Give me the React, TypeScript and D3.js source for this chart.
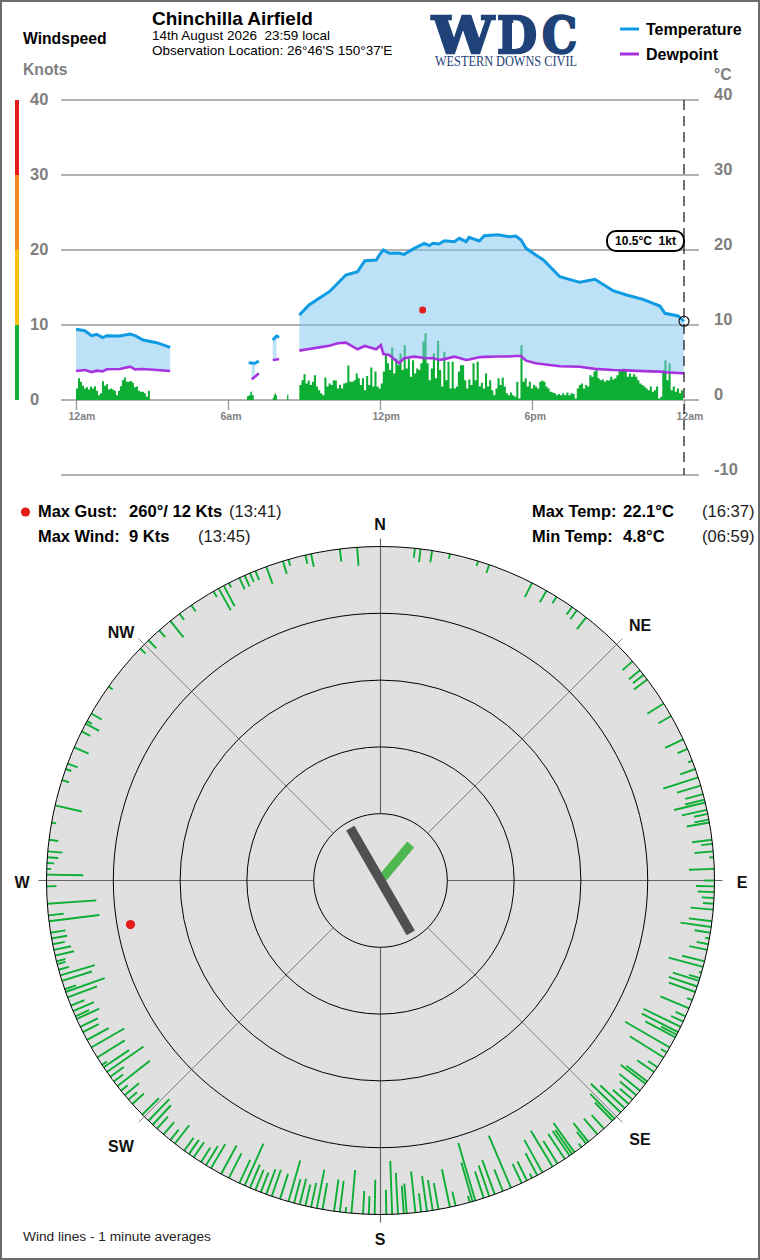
import * as d3 from "d3";
import { useEffect, useRef } from "react";

const hourTicks = [0, 360, 720, 1080, 1440];
const hourLabels = ["12am", "6am", "12pm", "6pm", "12am"];
const knotTicks = [40, 30, 20, 10, 0];
const tempTicks = [40, 30, 20, 10, 0, -10];
const speedBands = [
    { from: 30, to: 40, color: "#e31b1b" },
    { from: 20, to: 30, color: "#f58a1f" },
    { from: 10, to: 20, color: "#fbc010" },
    { from: 0, to: 10, color: "#10b03a" },
];

// temperature + dewpoint, minutes since midnight
const morningTimes = [0, 21, 37, 49, 63, 73, 104, 128, 140, 159, 191, 223];
const morningTemp = [9.42, 9.24, 8.58, 8.76, 8.31, 8.58, 8.53, 8.8, 8.58, 8, 7.64, 7.02];
const morningDew = [3.87, 4, 3.73, 3.91, 3.82, 4.09, 4.13, 4.44, 4.09, 4.13, 4, 3.87];

const blipOneTimes = [409, 416, 424, 433];
const blipOneTemp = [4.98, 4.93, 4.89, 5.2];
const blipOneDew = [NaN, 2.76, 3.1, 3.56];

const blipTwoTimes = [466, 475, 481];
const blipTwoTemp = [8, 8.53, 8.36];
const blipTwoDew = [5.33, 5.4, 5.47];

const dayTimes = [529, 552, 576, 600, 620, 639, 667, 684, 711, 722, 728, 742, 765, 777, 801, 825, 837, 845, 860, 872, 896, 908, 924, 931, 955, 967, 999, 1026, 1042, 1054, 1066, 1089, 1107, 1146, 1193, 1229, 1272, 1304, 1343, 1383, 1395, 1426, 1440];
const dayTemp = [11.33, 12.67, 13.56, 14.44, 15.56, 16.67, 17.11, 18.58, 18.67, 19.6, 20, 19.56, 19.6, 19.42, 20.22, 20.89, 20.58, 20.89, 20.8, 21.24, 21.1, 21.56, 21.11, 21.69, 21.2, 21.91, 22.04, 21.77, 21.87, 21.33, 20.22, 19.33, 18.67, 16.44, 15.69, 16.09, 14.58, 14, 13.42, 12.53, 11.56, 11.2, 10.5];
const dayDew = [6.58, 6.8, 7.02, 7.24, 7.56, 7.64, 6.76, 7.2, 6.76, 7.33, 6.13, 6, 4.9, 5.56, 5.78, 5.6, 5.56, 5.6, 5.33, 5.45, 5.78, 5.6, 5.33, 5.4, 5.69, 5.75, 5.8, 5.8, 5.87, 5.87, 5.24, 4.89, 4.76, 4.5, 4.44, 4.15, 4, 3.95, 3.85, 3.78, 3.7, 3.6, 3.55];

const fillRanges = [[0, 223], [416, 424], [466, 475], [529, 1440]];

// wind speed runs in knots, each with its first and last minute
const windMorning = [1.55, 2.9, 2.45, 1.9, 1.55, 1.7, 1.4, 1.8, 1.55, 1.85, 1.25, 0.65, 0.9, 2.5, 1.9, 2.1, 1.4, 1.55, 1.4, 1.25, 0.65, 1.25, 1.85, 2.65, 3, 2.45, 2.45, 2.55, 2.3, 1.7, 1.8, 1.25, 1.1, 1.1, 0.9, 0.45, 1.25, 0.2];
const windBlipOne = [0.5, 0.65, 1.1, 0.65, 0.45];
const windBlipTwo = [0.3, 0.7, 0.9, 0.6, 0.3];
const windBlipThree = [0, 0.7, 0];
const windDay = [
    2, 2.65, 3.45, 2.2, 2.6, 2, 2.45, 3.3, 1.8, 1.3, 0.9, 0.65, 3, 1.8, 2.2, 2, 2.65, 2.6, 1.55, 2, 1.55, 2.2, 2.3, 4.6, 2.45, 2.45, 2.65, 3.55, 2.9, 2, 2.9, 1.3, 3.2, 2, 4.35, 1.8, 3.8, 1.8, 1.55, 2.2, 3.8, 6, 4.9, 4, 7, 3.55, 5.55, 4.65, 6.2, 4, 7.3, 4.2, 5.55, 3.1, 5.3, 3.55, 4.2, 4, 4.9, 7.8, 8.9,
    4.9, 2.65, 4.2, 6.2, 2.9, 7.9, 4, 1.8, 6.45, 2.65, 5.1, 1.55, 5.1, 1.55, 1.8, 3.8, 4.65, 4.65, 2.65, 1.55, 2.75, 2, 4.9, 2.65, 5.1, 1.8, 2.3, 1.55, 3.55, 1.8, 2.65, 1.3, 0.65, 1.55, 2.9, 2, 3, 1.8, 0.9, 0.65, 1, 0.65, 0.45, 2.45, 0.2, 7.3, 2.45, 2.9, 1.8, 2.45, 1.55, 2, 1.8, 1.55, 2.45, 2.6, 2.45, 1.8, 1.55, 1.1, 1,
    0.9, 0.65, 0.8, 0.65, 0.9, 0.65, 1, 0.65, 0.9, 0.8, 0.2, 1.55, 2, 2.2, 1.55, 2, 1.8, 3.3, 3.1, 3.8, 4.2, 2.9, 2.65, 2.75, 2.45, 2.65, 2.6, 3.1, 2.75, 2.9, 3.3, 4, 4, 4.2, 4, 3.1, 3.55, 3.1, 3.45, 3.1, 2.65, 2.2, 2, 1.8, 1.55, 1.3, 1.8, 1.1, 1.3, 1.8, 0.2, 0.45, 4, 5.3, 2.65, 4.9, 1.3, 1.8, 1.1, 1.55, 0.9, 1.3, 1.55,
];

// compass lines: bearing in degrees, speed in knots
const lineBearings = [
    5.9, 6.9, 8.9, 12, 17, 19, 27, 29.8, 31.8, 35, 36, 38, 49, 51, 52, 53, 58, 60.5, 65, 66.8, 69, 70.5, 72, 73.5, 75, 76, 76.5, 77.8, 78.5, 79.5, 80, 83, 83.7, 85, 86, 88, 90,
    91, 92, 93, 94, 95, 97, 98, 99, 100, 101, 102, 104, 105, 106, 107, 107.5, 108.5, 109.5, 111, 112.5, 114, 115, 116, 117, 117.5, 118, 120, 121, 122, 124, 125, 127, 127.5, 129, 130, 131, 132, 133, 134, 135.5, 136, 138, 139.5, 141.5, 142, 143, 144.5, 145, 145.5, 146.5, 148, 149, 151, 152, 153, 154, 155, 157, 158.5, 160, 161, 162, 163.5, 164, 164.5, 167, 168, 170, 171, 172, 173, 174, 175.5, 176, 177, 178, 179,
    181, 182, 183, 185, 186, 187, 188, 190, 191, 192, 193, 194, 195, 196, 197.5, 199, 200, 201, 202, 203, 204, 205, 207, 208.5, 210.5, 211.5, 212.5, 214, 215, 216, 218, 219, 220.5, 222, 223, 224, 225.5, 228, 229, 230, 231, 232, 233, 234, 235, 236, 236.5, 238, 240, 241.5, 243, 244, 245.5, 246, 247, 248, 249.5, 250.5, 251, 252.5, 253.5, 254.5, 255.5, 256, 257, 258, 259, 260, 261, 263, 264, 266, 269,
    271, 272, 273, 274, 275, 277, 280, 283, 287.5, 289.5, 290.5, 293.5, 296.5, 298, 298.5, 300, 305.5, 314, 316, 318.5, 321, 323, 325.5, 330, 331, 332, 333, 335, 336, 337, 338, 340, 343, 344, 347, 348, 353, 356,
];
const lineSpeeds = [
    1.4, 2, 1.8, 0.75, 0.75, 1.3, 2.4, 2, 1.15, 1.4, 1.65, 2.25, 2, 2.15, 2.05, 2.5, 2.9, 2.2, 3, 1.6, 0.7, 2.4, 5.5, 3.7, 2.75, 3, 4.8, 3.85, 2.1, 2.2, 3.45, 3, 1.7, 2.8, 0.65, 3.8, 1.5,
    2.75, 2.5, 1.85, 1.6, 3.4, 3.5, 4.65, 2.4, 0.65, 1.8, 2.75, 3.45, 5.35, 0.4, 1.7, 4.1, 4.5, 4.2, 0.85, 4.65, 1.65, 2, 6.2, 6.1, 2.65, 5.1, 7.7, 1, 6, 1.7, 3.1, 3.9, 4.7, 4, 3.2, 2.5, 3.2, 5, 6.2, 5.2, 3.8, 2.75, 3.1, 3.6, 2.25, 0.7, 5.4, 4.4, 4.5, 4.5, 4, 6.3, 5.6, 3.75, 0.75, 3.2, 3.2, 8.5, 3.5, 5.5, 4.85, 4.2, 9, 6.1, 1, 2.2, 5.8, 4, 4.6, 5.3, 2.8, 6.2, 4.5, 4.2, 6.2, 8, 3.7,
    5.2, 2.7, 3.45, 6.5, 0.85, 4.7, 4.8, 4, 5.9, 3.7, 3.3, 4, 3.7, 6.4, 3.95, 4.2, 4, 3.2, 3.3, 3.8, 6.9, 3.85, 4.15, 4.85, 4.2, 3.4, 2.6, 2.75, 2.6, 2.4, 3.5, 2, 2.45, 2.45, 4, 4.5, 3.5, 2.35, 1.7, 2.8, 1.3, 6.2, 1.75, 2.5, 6.7, 4.6, 0.9, 4.85, 5.7, 3.7, 2.65, 2.9, 3.75, 2.25, 3.4, 2.2, 4.7, 6.2, 1.8, 4.7, 5.4, 1.6, 1.3, 1.4, 2.9, 2.65, 1.85, 2.35, 2.25, 7.6, 2.3, 7.35, 1.5,
    5.5, 0.65, 1.1, 1.65, 2.2, 1.4, 0.7, 4.1, 1.1, 0.9, 1.6, 2.35, 1.45, 2.3, 0.85, 1.8, 0.75, 1.1, 1.7, 1.35, 3.15, 1.15, 1.15, 1, 3.75, 3.5, 0.75, 1.9, 1.8, 1.45, 1.5, 2.75, 2, 1, 1.35, 2, 1.9, 2.75,
];

const ringKnots = [10, 20, 30, 40];
const compassPoints = [
    { label: "N", bearing: 0, x: 380, y: 530, major: true },
    { label: "NE", bearing: 45, x: 640, y: 631, major: false },
    { label: "E", bearing: 90, x: 742, y: 888, major: true },
    { label: "SE", bearing: 135, x: 640, y: 1145, major: false },
    { label: "S", bearing: 180, x: 380, y: 1245, major: true },
    { label: "SW", bearing: 225, x: 121, y: 1152, major: false },
    { label: "W", bearing: 270, x: 22, y: 888, major: true },
    { label: "NW", bearing: 315, x: 121, y: 638, major: false },
];

const FONT = "'Liberation Sans', Arial, sans-serif";
const GREY = "#7f7f7f";
const NAVY = "#1f4278";
const TEMP_COLOR = "#0f9be3";
const DEW_COLOR = "#a733e0";
const WIND_COLOR = "#0cae34";
const RED = "#e31b1b";

export default function App() {
    const ref = useRef<SVGSVGElement>(null);

    useEffect(() => {
        const svg = d3.select(ref.current);
        svg.selectAll("*").remove();

        const text = (s: string, x: number, y: number, size: number, weight = "normal", fill = "#000", anchor = "start") =>
            svg.append("text")
                .attr("x", x)
                .attr("y", y)
                .attr("font-family", FONT)
                .attr("font-size", size)
                .attr("font-weight", weight)
                .attr("fill", fill)
                .attr("text-anchor", anchor)
                .attr("xml:space", "preserve")
                .style("white-space", "pre")
                .text(s);

        svg.append("rect")
            .attr("x", 1).attr("y", 1).attr("width", 758).attr("height", 1258)
            .attr("fill", "#fff").attr("stroke", "#6b6b6b").attr("stroke-width", 2);

        // header
        text("Windspeed", 23, 44, 15.7, "bold");
        text("Knots", 23, 75, 15.7, "bold", GREY);
        text("Chinchilla Airfield", 152, 25, 19, "bold");
        text("14th August 2026  23:59 local", 152, 40, 13.5);
        text("Observation Location: 26°46'S 150°37'E", 152, 55, 13.5);

        // logo, letters placed one by one
        [
            { letter: "W", x: 432, w: 62 },
            { letter: "D", x: 497, w: 40 },
            { letter: "C", x: 542, w: 35 },
        ].forEach((d) => {
            text(d.letter, d.x, 52.5, 51, "bold", NAVY)
                .attr("font-family", "'DejaVu Serif', serif")
                .attr("stroke", NAVY)
                .attr("stroke-width", 2.4)
                .attr("textLength", d.w)
                .attr("lengthAdjust", "spacingAndGlyphs");
        });
        svg.append("path")
            .attr("d", "M512,23h4l1,3l3,1l1,3l3,1v5l-1,2v3l-3,1l-1,3l-3,1l-1,3h-3z")
            .attr("fill", "#fff");
        text("WESTERN DOWNS CIVIL", 435, 65.5, 15, "normal", NAVY)
            .attr("font-family", "'Liberation Serif', serif")
            .attr("textLength", 142)
            .attr("lengthAdjust", "spacingAndGlyphs");

        // legend
        [
            { name: "Temperature", color: TEMP_COLOR, y: 29 },
            { name: "Dewpoint", color: DEW_COLOR, y: 54 },
        ].forEach((d) => {
            svg.append("line")
                .attr("x1", 620).attr("x2", 639).attr("y1", d.y).attr("y2", d.y)
                .attr("stroke", d.color).attr("stroke-width", 3);
            text(d.name, 646, d.y + 6, 16, "bold");
        });
        text("°C", 714, 80, 15.7, "bold", GREY);

        const x = d3.scaleLinear().domain([0, 1440]).range([76, 684]);
        const y = d3.scaleLinear().domain([0, 40]).range([400, 100]);

        // speed band bar
        speedBands.forEach((b) => {
            svg.append("rect")
                .attr("x", 15).attr("width", 4)
                .attr("y", y(b.to)).attr("height", y(b.from) - y(b.to))
                .attr("fill", b.color);
        });

        // grid
        svg.append("g")
            .selectAll("line")
            .data(tempTicks)
            .join("line")
            .attr("x1", 61).attr("x2", 699)
            .attr("y1", (d) => y(d)).attr("y2", (d) => y(d))
            .attr("stroke", "#9a9a9a").attr("stroke-width", 1.4);

        // axes
        const leftAxis = svg.append("g")
            .attr("transform", "translate(48,-1)")
            .call(d3.axisLeft(y).tickValues(knotTicks).tickSize(0));
        leftAxis.select(".domain").remove();
        leftAxis.selectAll("text")
            .attr("x", -18).attr("dy", "0.36em")
            .attr("text-anchor", "start")
            .attr("font-family", FONT).attr("font-size", 16.5).attr("font-weight", "bold")
            .attr("fill", GREY);

        const rightAxis = svg.append("g")
            .attr("transform", "translate(714,-6)")
            .call(d3.axisRight(y).tickValues(tempTicks).tickSize(0).tickFormat((d) => String(d)));
        rightAxis.select(".domain").remove();
        rightAxis.selectAll("text")
            .attr("x", 0).attr("dy", "0.36em")
            .attr("text-anchor", "start")
            .attr("font-family", FONT).attr("font-size", 16.5).attr("font-weight", "bold")
            .attr("fill", GREY);

        const bottomAxis = svg.append("g")
            .attr("transform", "translate(0,400)")
            .call(
                d3.axisBottom(x)
                    .tickValues(hourTicks)
                    .tickSize(10)
                    .tickFormat((_, i) => hourLabels[i])
            );
        bottomAxis.select(".domain").remove();
        bottomAxis.selectAll("line").attr("stroke", "#9a9a9a").attr("stroke-width", 1.4);
        bottomAxis.selectAll("text")
            .attr("x", -8).attr("y", 20).attr("dy", 0)
            .attr("text-anchor", "start")
            .attr("font-family", FONT).attr("font-size", 10.5).attr("font-weight", "bold")
            .attr("fill", GREY);

        // temp / dewpoint
        const segments = [
            { times: morningTimes, temp: morningTemp, dew: morningDew },
            { times: blipOneTimes, temp: blipOneTemp, dew: blipOneDew },
            { times: blipTwoTimes, temp: blipTwoTemp, dew: blipTwoDew },
            { times: dayTimes, temp: dayTemp, dew: dayDew },
        ].map((s) => s.times.map((t, i) => ({ t, temp: s.temp[i], dew: s.dew[i] })));

        type Sample = { t: number; temp: number; dew: number };
        const inFill = (d: Sample) =>
            !isNaN(d.dew) && fillRanges.some((r) => d.t >= r[0] && d.t <= r[1]);

        const band = d3.area<Sample>()
            .defined(inFill)
            .x((d) => x(d.t))
            .y0((d) => y(d.dew))
            .y1((d) => y(d.temp));
        const tempLine = d3.line<Sample>().x((d) => x(d.t)).y((d) => y(d.temp));
        const dewLine = d3.line<Sample>()
            .defined((d) => !isNaN(d.dew))
            .x((d) => x(d.t))
            .y((d) => y(d.dew));

        // wind
        const windRuns = [
            { from: 0, to: 175, values: windMorning },
            { from: 405, to: 421, values: windBlipOne },
            { from: 466, to: 476, values: windBlipTwo },
            { from: 497, to: 503, values: windBlipThree },
            { from: 529, to: 1438, values: windDay },
        ];
        const windArea = d3.area<number>()
            .curve(d3.curveStepAfter)
            .y0(y(0))
            .y1((d) => y(d));
        windRuns.forEach((run) => {
            const step = (run.to - run.from) / (run.values.length - 1);
            svg.append("path")
                .datum(run.values)
                .attr("fill", WIND_COLOR)
                .attr("d", windArea.x((_, i) => x(run.from + i * step)));
        });

        segments.forEach((seg) => {
            svg.append("path")
                .datum(seg)
                .attr("fill", "#7cc4ef").attr("fill-opacity", 0.5)
                .attr("d", band);
        });
        segments.forEach((seg) => {
            svg.append("path")
                .datum(seg)
                .attr("fill", "none").attr("stroke", DEW_COLOR).attr("stroke-width", 2.6)
                .attr("d", dewLine);
            svg.append("path")
                .datum(seg)
                .attr("fill", "none").attr("stroke", TEMP_COLOR).attr("stroke-width", 3)
                .attr("d", tempLine);
        });

        // max gust marker
        svg.append("circle")
            .attr("cx", x(821)).attr("cy", y(12)).attr("r", 3.5).attr("fill", RED);

        // now marker
        svg.append("line")
            .attr("x1", x(1440)).attr("x2", x(1440)).attr("y1", y(40)).attr("y2", y(-10))
            .attr("stroke", "#333").attr("stroke-width", 1.4).attr("stroke-dasharray", "10,6");
        svg.append("circle")
            .attr("cx", x(1440)).attr("cy", y(10.5)).attr("r", 5)
            .attr("fill", "none").attr("stroke", "#111").attr("stroke-width", 1.2);
        svg.append("rect")
            .attr("x", 607).attr("y", 231).attr("width", 77).attr("height", 20).attr("rx", 9)
            .attr("fill", "#fff").attr("stroke", "#000").attr("stroke-width", 2);
        text("10.5°C  1kt", 645.5, 245, 12, "bold", "#000", "middle");

        // stats
        svg.append("circle").attr("cx", 25.5).attr("cy", 512).attr("r", 4.6).attr("fill", RED);
        text("Max Gust:", 38, 517, 16.4, "bold");
        text("260°/ 12 Kts", 129, 517, 16.6, "bold");
        text("(13:41)", 229, 517, 16.6, "normal", "#222");
        text("Max Wind:", 38, 542, 16.4, "bold");
        text("9 Kts", 129, 542, 16.6, "bold");
        text("(13:45)", 198, 542, 16.6, "normal", "#222");
        text("Max Temp:", 532, 517, 16.4, "bold");
        text("22.1°C", 623, 517, 16.6, "bold");
        text("(16:37)", 702, 517, 16.6, "normal", "#222");
        text("Min Temp:", 532, 542, 16.4, "bold");
        text("4.8°C", 623, 542, 16.6, "bold");
        text("(06:59)", 702, 542, 16.6, "normal", "#222");

        // compass
        const rim = 334;
        const r = d3.scaleLinear().domain([0, 50]).range([rim, 0]);
        const rad = (deg: number) => (deg * Math.PI) / 180;
        const compass = svg.append("g").attr("transform", "translate(380.5,880.5)");

        compass.append("circle")
            .attr("r", rim).attr("fill", "#e0e0e0");

        compass.append("g")
            .selectAll("line")
            .data(compassPoints)
            .join("line")
            .attr("x1", (d) => d3.pointRadial(rad(d.bearing), r(40))[0])
            .attr("y1", (d) => d3.pointRadial(rad(d.bearing), r(40))[1])
            .attr("x2", (d) => d3.pointRadial(rad(d.bearing), rim + 8)[0])
            .attr("y2", (d) => d3.pointRadial(rad(d.bearing), rim + 8)[1])
            .attr("stroke", (d) => (d.major ? "#666" : "#777"))
            .attr("stroke-width", (d) => (d.major ? 1.2 : 0.9));

        compass.append("g")
            .selectAll("line")
            .data(lineBearings.map((b, i) => ({ bearing: b, speed: lineSpeeds[i] })))
            .join("line")
            .attr("x1", (d) => d3.pointRadial(rad(d.bearing), rim)[0])
            .attr("y1", (d) => d3.pointRadial(rad(d.bearing), rim)[1])
            .attr("x2", (d) => d3.pointRadial(rad(d.bearing), r(d.speed))[0])
            .attr("y2", (d) => d3.pointRadial(rad(d.bearing), r(d.speed))[1])
            .attr("stroke", WIND_COLOR)
            .attr("stroke-width", 1.9);

        compass.append("g")
            .selectAll("circle")
            .data([0, ...ringKnots])
            .join("circle")
            .attr("r", (d) => r(d))
            .attr("fill", "none")
            .attr("stroke", "#000")
            .attr("stroke-width", 1);

        // current wind needles
        const needle = (bearing: number, from: number, to: number, color: string, width: number) => {
            const a = d3.pointRadial(rad(bearing), from);
            const b = d3.pointRadial(rad(bearing), to);
            compass.append("line")
                .attr("x1", a[0]).attr("y1", a[1]).attr("x2", b[0]).attr("y2", b[1])
                .attr("stroke", color).attr("stroke-width", width);
        };
        needle(40, 0, 47, "#50b850", 9);
        needle(330, -60.5, 60.5, "#505050", 9.5);

        // gust on compass
        const gust = d3.pointRadial(rad(260), r(12));
        compass.append("circle")
            .attr("cx", gust[0]).attr("cy", gust[1]).attr("r", 4.6).attr("fill", RED);

        compassPoints.forEach((d) => {
            text(d.label, d.x, d.y, 16, "bold", "#111", "middle");
        });

        text("Wind lines - 1 minute averages", 23, 1241, 13.7, "normal", "#222");
    }, []);

    return (
        <svg
            ref={ref}
            width={760}
            height={1260}
            style={{ position: "absolute", left: 0, top: 0 }}
        />
    );
}
